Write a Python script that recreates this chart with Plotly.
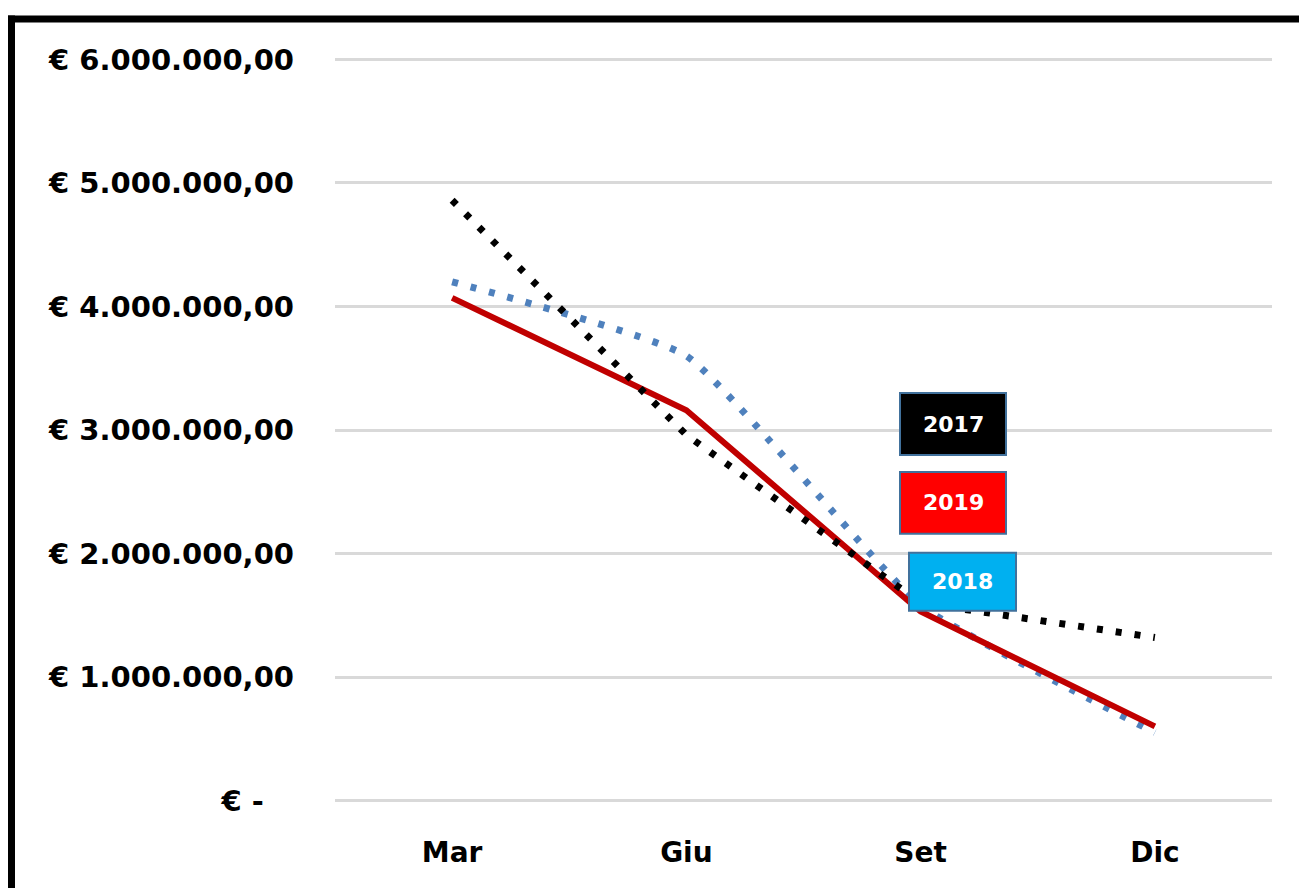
import plotly.graph_objects as go

# ---- data ----
months = ["Mar", "Giu", "Set", "Dic"]
v2017 = [4860000, 2960000, 1600000, 1320000]
v2018 = [4200000, 3600000, 1580000, 550000]
v2019 = [4070000, 3160000, 1530000, 600000]
ytick_vals = [0, 1000000, 2000000, 3000000, 4000000, 5000000, 6000000]
ytick_text = ["€ -\u00a0\u00a0\u00a0", "€ 1.000.000,00", "€ 2.000.000,00", "€ 3.000.000,00",
              "€ 4.000.000,00", "€ 5.000.000,00", "€ 6.000.000,00"]
legend_labels = ["2017", "2019", "2018"]

OFF = 8  # page body margin
W, H = 1307 - OFF, 888 - OFF
YPAD = 20000
# page pixel layout of the plot area
px_left, px_right = 335, 1272
px_y0, px_y6 = 801, 59
ppm = (px_y0 - px_y6) / 6000000
top_page = px_y6 - YPAD * ppm
bot_page = px_y0 + YPAD * ppm
L = px_left - OFF
R = W - (px_right - OFF)
T = top_page - OFF
B = H - (bot_page - OFF)
PW, PH = W - L - R, H - T - B

def px(x):
    return (x - OFF - L) / PW

def py(y):
    return (H - B - (y - OFF)) / PH

fig = go.Figure()
fig.add_trace(go.Scatter(x=months, y=v2018, mode="lines", name="2018",
                         line=dict(color="#4F81BD", width=7, dash="6px,13px", shape="spline", smoothing=0.4)))
fig.add_trace(go.Scatter(x=months, y=v2019, mode="lines", name="2019",
                         line=dict(color="#C00000", width=6)))
fig.add_trace(go.Scatter(x=months, y=v2017, mode="lines", name="2017",
                         line=dict(color="#000000", width=7, dash="6px,13px")))

shapes = []
# black frame on left and top
shapes.append(dict(type="rect", xref="paper", yref="paper", x0=px(7), x1=px(15), y0=py(15), y1=py(900),
                   fillcolor="black", line=dict(width=0), layer="above"))
shapes.append(dict(type="rect", xref="paper", yref="paper", x0=px(7), x1=px(1320), y0=py(15), y1=py(22),
                   fillcolor="black", line=dict(width=0), layer="above"))

boxes = [
    (legend_labels[0], 900, 1006, 393, 455, "#000000"),
    (legend_labels[1], 900, 1006, 472, 534, "#FF0000"),
    (legend_labels[2], 909, 1016, 553, 611, "#00B0F0"),
]
annotations = []
for lab, x0, x1, y0, y1, col in boxes:
    shapes.append(dict(type="rect", xref="paper", yref="paper", x0=px(x0), x1=px(x1), y0=py(y1), y1=py(y0),
                       fillcolor=col, line=dict(color="#41719C", width=2), layer="above"))
    annotations.append(dict(xref="paper", yref="paper", x=px((x0 + x1) / 2), y=py((y0 + y1) / 2),
                            text="<b>" + lab + "</b>", showarrow=False,
                            font=dict(family="DejaVu Sans", size=22, color="white"),
                            xanchor="center", yanchor="middle"))

fig.update_layout(
    width=W, height=H,
    margin=dict(l=L, r=R, t=T, b=B, pad=0),
    paper_bgcolor="white", plot_bgcolor="white",
    showlegend=False,
    shapes=shapes, annotations=annotations,
    xaxis=dict(type="category", range=[-0.5, 3.5], showgrid=False, zeroline=False, showline=False,
               ticks="", ticklabelstandoff=30,
               tickfont=dict(family="DejaVu Sans", size=28, color="black", weight="bold")),
    yaxis=dict(range=[-YPAD, 6000000 + YPAD], tickvals=ytick_vals, ticktext=ytick_text,
               showgrid=True, gridcolor="#D9D9D9", gridwidth=2.5, zeroline=False, showline=False,
               ticks="", ticklabelstandoff=40,
               tickfont=dict(family="DejaVu Sans", size=29, color="black", weight="bold")),
)

fig.write_html("out.html")
